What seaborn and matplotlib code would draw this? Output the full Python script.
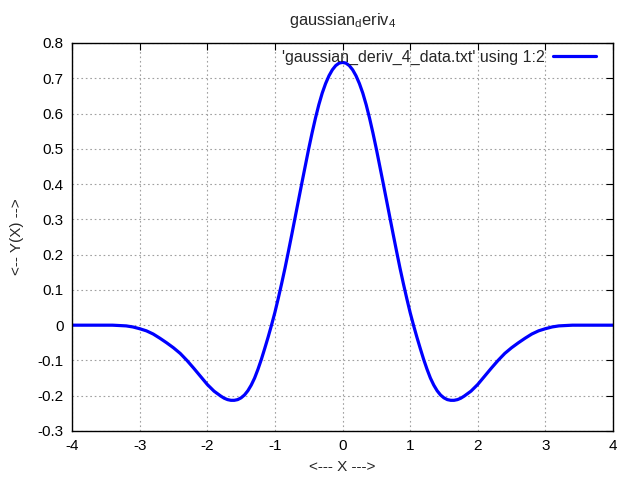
import matplotlib
matplotlib.use("Agg")
import matplotlib.pyplot as plt
import seaborn as sns
import pandas as pd
from matplotlib.ticker import FormatStrFormatter, MultipleLocator

# values
x_vals = [-4.0, -3.8, -3.6, -3.4, -3.3, -3.2, -3.1, -3.0, -2.9, -2.8,
          -2.7, -2.6, -2.5, -2.4, -2.3, -2.2, -2.1, -2.0, -1.9, -1.8,
          -1.75, -1.7, -1.65, -1.6, -1.55, -1.5, -1.45, -1.4, -1.35, -1.3,
          -1.25, -1.2, -1.15, -1.1, -1.05, -1.0, -0.95, -0.9, -0.85, -0.8,
          -0.75, -0.7, -0.65, -0.6, -0.55, -0.5, -0.45, -0.4, -0.35, -0.3,
          -0.25, -0.2, -0.15, -0.1, -0.05, 0.0, 0.05, 0.1, 0.15, 0.2,
          0.25, 0.3, 0.35, 0.4, 0.45, 0.5, 0.55, 0.6, 0.65, 0.7,
          0.75, 0.8, 0.85, 0.9, 0.95, 1.0, 1.05, 1.1, 1.15, 1.2,
          1.25, 1.3, 1.35, 1.4, 1.45, 1.5, 1.55, 1.6, 1.65, 1.7,
          1.75, 1.8, 1.9, 2.0, 2.1, 2.2, 2.3, 2.4, 2.5, 2.6,
          2.7, 2.8, 2.9, 3.0, 3.1, 3.2, 3.3, 3.4, 3.6, 3.8, 4.0]
y_vals = [0.0, 0.0, 0.0, 0.0, -0.001, -0.002, -0.005, -0.01, -0.016, -0.025,
          -0.037, -0.05, -0.064, -0.08, -0.1, -0.122, -0.145, -0.168, -0.187, -0.201,
          -0.207, -0.211, -0.213, -0.213, -0.211, -0.206, -0.198, -0.186, -0.17, -0.15,
          -0.125, -0.097, -0.066, -0.034, 0.0, 0.036, 0.076, 0.118, 0.162, 0.209,
          0.257, 0.306, 0.355, 0.404, 0.452, 0.5, 0.545, 0.587, 0.625, 0.658,
          0.685, 0.707, 0.724, 0.736, 0.743, 0.745, 0.743, 0.736, 0.724, 0.707,
          0.685, 0.658, 0.625, 0.587, 0.545, 0.5, 0.452, 0.404, 0.355, 0.306,
          0.257, 0.209, 0.162, 0.118, 0.076, 0.036, 0.0, -0.034, -0.066, -0.097,
          -0.125, -0.15, -0.17, -0.186, -0.198, -0.206, -0.211, -0.213, -0.213, -0.211,
          -0.207, -0.201, -0.187, -0.168, -0.145, -0.122, -0.1, -0.08, -0.064, -0.05,
          -0.037, -0.025, -0.016, -0.01, -0.005, -0.002, -0.001, 0.0, 0.0, 0.0, 0.0]

df = pd.DataFrame({"x": x_vals, "y": y_vals})

sns.set_style("white")
plt.rcParams["font.family"] = ["Liberation Sans", "DejaVu Sans"]
plt.rcParams["axes.unicode_minus"] = False

fig = plt.figure(figsize=(6.4, 4.8), dpi=100)
ax = fig.add_axes([72 / 640, 1 - 431 / 480, (613 - 72) / 640, (431 - 43) / 480])

sns.lineplot(data=df, x="x", y="y", color="#0000ff", linewidth=2.3, sort=False,
             label="'gaussian_deriv_4_data.txt' using 1:2", ax=ax)

ax.set_xlim(-4, 4)
ax.set_ylim(-0.3, 0.8)
ax.xaxis.set_major_locator(MultipleLocator(1))
ax.yaxis.set_major_locator(MultipleLocator(0.1))
ax.xaxis.set_major_formatter(FormatStrFormatter("%g"))
ax.yaxis.set_major_formatter(FormatStrFormatter("%g"))
ax.tick_params(direction="in", top=True, right=True, length=5, width=0.8,
               labelsize=11, colors="black", pad=6)
ax.grid(True, color="#a0a0a0", linestyle=(0, (1.5, 2.5)), linewidth=0.8)
for s in ax.spines.values():
    s.set_color("black")
    s.set_linewidth(1.0)

ax.set_xlabel("<--- X --->", fontsize=11, labelpad=5)
ax.set_ylabel("<-- Y(X) -->", fontsize=11, labelpad=10)
ax.set_title(r"gaussian$_\mathregular{d}$eriv$_\mathregular{4}$", fontsize=11.8, pad=13)

ax.legend(loc="upper right", bbox_to_anchor=(0.9686, 0.982), frameon=False,
          markerfirst=False, handlelength=2.7, fontsize=11.5,
          borderaxespad=0, borderpad=0, handletextpad=0.5)

fig.savefig("out.png", dpi=100)
